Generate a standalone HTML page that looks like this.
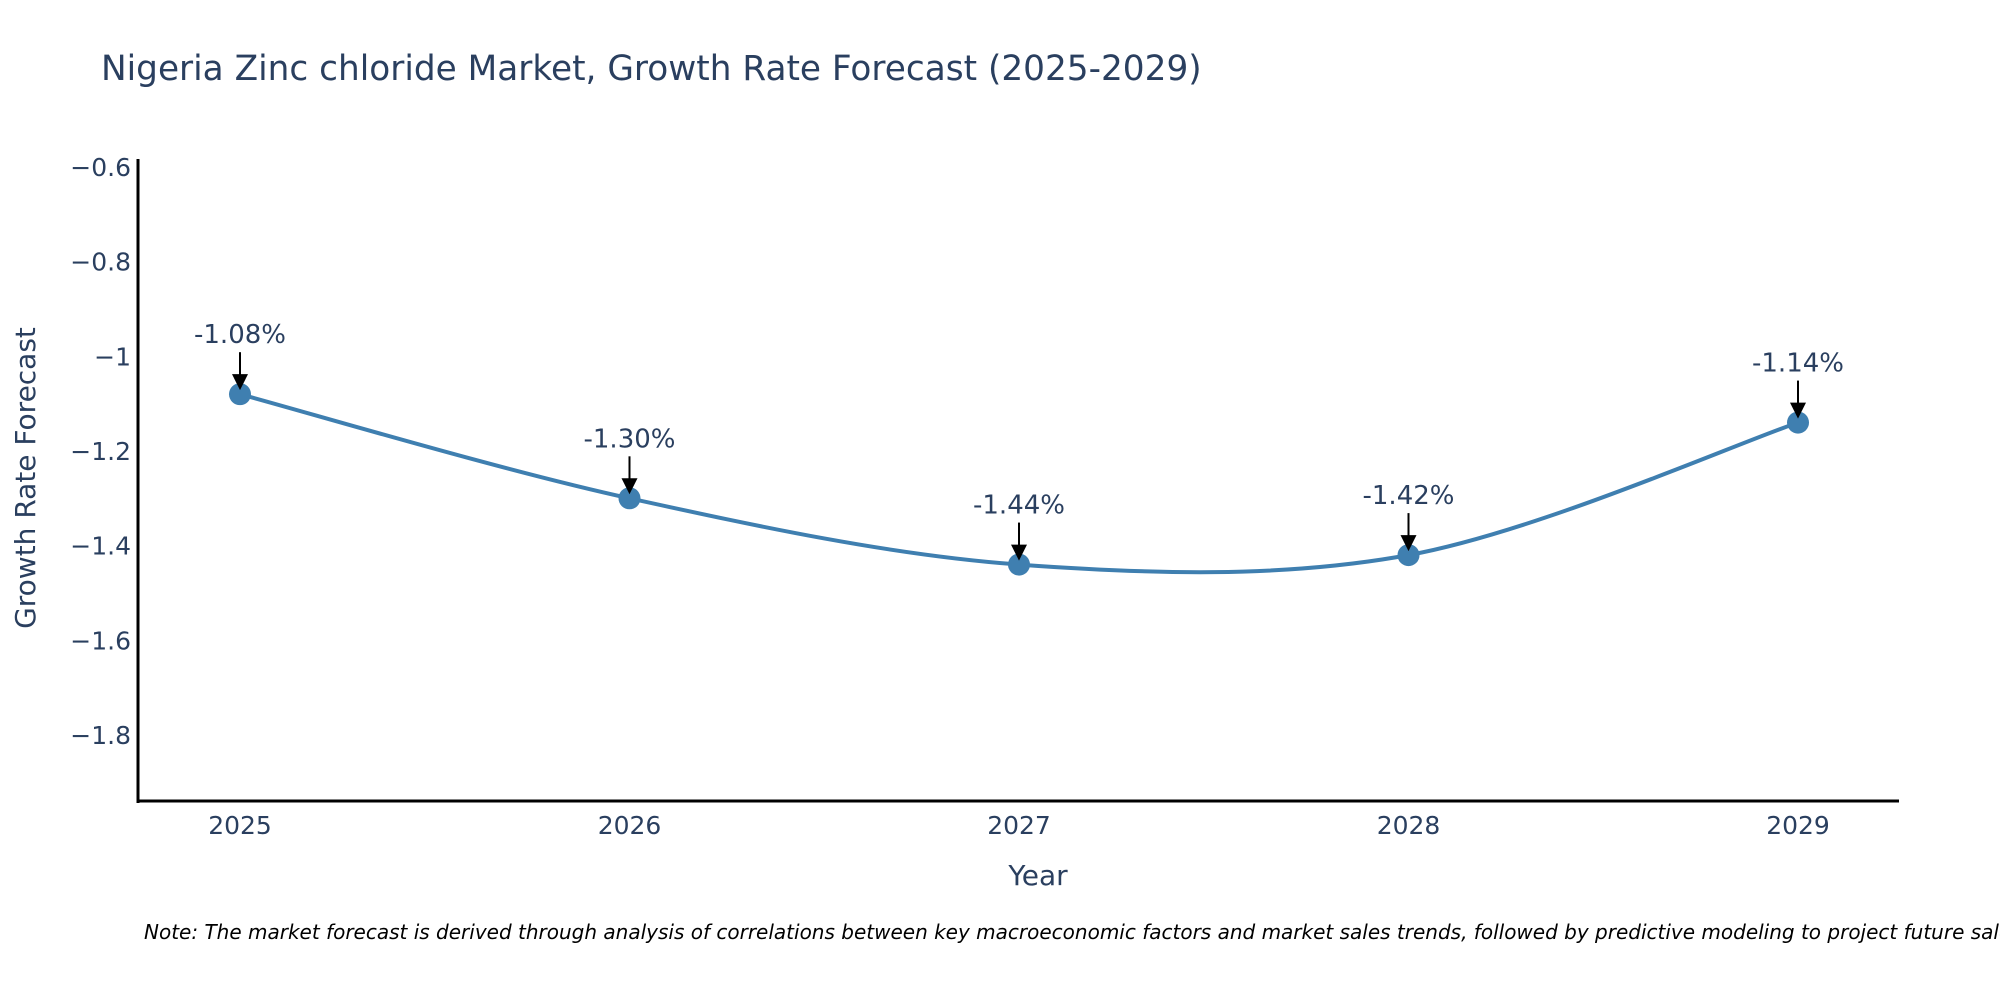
<!DOCTYPE html>
<html><head><meta charset="utf-8"><style>
body{margin:0;background:#fff;}
svg{display:block;font-family:"DejaVu Sans","Liberation Sans",sans-serif;}
</style></head><body>
<svg id="chart" width="2000" height="1000" viewBox="0 0 2000 1000" xmlns="http://www.w3.org/2000/svg">
<text x="101" y="80" font-size="34.3" fill="#2a3f5f">Nigeria Zinc chloride Market, Growth Rate Forecast (2025-2029)</text>
<g id="yticks"></g><g id="xticks"></g>
<line x1="138" y1="159" x2="138" y2="803" stroke="#000" stroke-width="3"/>
<line x1="137" y1="801" x2="1899" y2="801" stroke="#000" stroke-width="3"/>
<path id="line" fill="none" stroke="#3f7fb0" stroke-width="4"/>
<g id="marks"></g>
<text transform="translate(35,478) rotate(-90)" text-anchor="middle" font-size="28" fill="#2a3f5f">Growth Rate Forecast</text>
<text x="1038" y="885" text-anchor="middle" font-size="28" fill="#2a3f5f">Year</text>
<text x="144" y="939" font-size="20" font-style="italic" fill="#000">Note: The market forecast is derived through analysis of correlations between key macroeconomic factors and market sales trends, followed by predictive modeling to project future sales.</text>
</svg>
<script>
const years = [2025, 2026, 2027, 2028, 2029];
const values = [-1.08, -1.30, -1.44, -1.42, -1.14];
const labels = ["-1.08%", "-1.30%", "-1.44%", "-1.42%", "-1.14%"];
const yTicks = [-0.6, -0.8, -1, -1.2, -1.4, -1.6, -1.8];
const yTickLabels = ["\u22120.6", "\u22120.8", "\u22121", "\u22121.2", "\u22121.4", "\u22121.6", "\u22121.8"];

const NS = "http://www.w3.org/2000/svg";
function xs(v){ return 240 + (v - 2025) * 389.5; }
function ys(v){ return 167 + (-0.6 - v) * 473.3; }
function mk(tag, attrs){ const e = document.createElementNS(NS, tag); for (const k in attrs) e.setAttribute(k, attrs[k]); return e; }

const yt = document.getElementById('yticks');
yTicks.forEach((t, i) => {
  const e = mk('text', {x: 131, y: ys(t) + 9, 'text-anchor': 'end', 'font-size': 25, fill: '#2a3f5f'});
  
  
  e.textContent = yTickLabels[i];
  yt.appendChild(e);
});
const xt = document.getElementById('xticks');
years.forEach(y => {
  const e = mk('text', {x: xs(y), y: 834, 'text-anchor': 'middle', 'font-size': 25, fill: '#2a3f5f'});
  
  
  e.textContent = String(y);
  xt.appendChild(e);
});

const pts = years.map((y, i) => [xs(y), ys(values[i])]);
let d = 'M' + pts[0][0] + ',' + pts[0][1];
const s = 0.33;
for (let i = 0; i < pts.length - 1; i++) {
  const p0 = pts[Math.max(0, i - 1)], p1 = pts[i], p2 = pts[i + 1], p3 = pts[Math.min(pts.length - 1, i + 2)];
  const c1 = [p1[0] + (p2[0] - p0[0]) * s / 2, p1[1] + (p2[1] - p0[1]) * s / 2];
  const c2 = [p2[0] - (p3[0] - p1[0]) * s / 2, p2[1] - (p3[1] - p1[1]) * s / 2];
  d += ' C' + c1.join(',') + ' ' + c2.join(',') + ' ' + p2.join(',');
}
document.getElementById('line').setAttribute('d', d);

const g = document.getElementById('marks');
pts.forEach((p, i) => {
  const c = mk('circle', {cx: p[0], cy: p[1], r: 11, fill: '#3f7fb0'});
  
  
  g.appendChild(c);
  const l = mk('line', {x1: p[0], y1: p[1] - 42, x2: p[0], y2: p[1] - 16, stroke: '#000', 'stroke-width': 2});
  
  
  g.appendChild(l);
  const a = mk('path', {d: `M${p[0]-8},${p[1]-20} L${p[0]+8},${p[1]-20} L${p[0]},${p[1]-4} Z`, fill: '#000'});
  
  
  g.appendChild(a);
  const t = mk('text', {x: p[0], y: p[1] - 51, 'text-anchor': 'middle', 'font-size': 26, fill: '#2a3f5f'});
  
  
  t.textContent = labels[i];
  g.appendChild(t);
});
</script>
</body></html>
